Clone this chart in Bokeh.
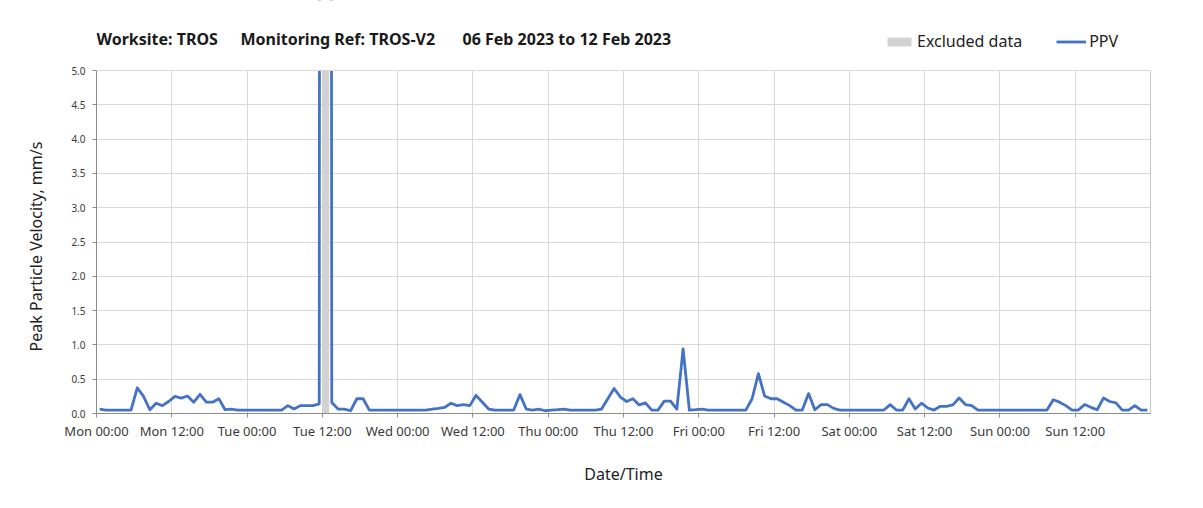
import pandas as pd
from bokeh.plotting import figure
from bokeh.models import (Range1d, FixedTicker, DatetimeTickFormatter, Legend, LegendItem,
                          Label, ColumnDataSource, NumeralTickFormatter, LinearAxis, Span,
                          BoxAnnotation)
from bokeh.embed import file_html
from bokeh.resources import INLINE

# ---------------- data ----------------
start_time = "2023-02-06 00:00"
end_time = "2023-02-13 00:00"
first_reading = "2023-02-06 00:30"
n_readings = 168

ppv = [
    0.065, 0.05, 0.05, 0.05, 0.05, 0.05, 0.375, 0.25, 0.055, 0.15,
    0.115, 0.175, 0.25, 0.225, 0.255, 0.165, 0.28, 0.165, 0.165, 0.215,
    0.055, 0.065, 0.05, 0.05, 0.05, 0.05, 0.05, 0.05, 0.05, 0.05,
    0.115, 0.065, 0.115, 0.115, 0.115, 0.14, 120.0, 0.16, 0.065, 0.065,
    0.04, 0.215, 0.215, 0.05, 0.05, 0.05, 0.05, 0.05, 0.05, 0.05,
    0.05, 0.05, 0.05, 0.065, 0.075, 0.09, 0.15, 0.115, 0.13, 0.115,
    0.265, 0.165, 0.065, 0.05, 0.05, 0.05, 0.05, 0.275, 0.065, 0.05,
    0.065, 0.04, 0.05, 0.055, 0.065, 0.05, 0.05, 0.05, 0.05, 0.05,
    0.065, 0.215, 0.365, 0.24, 0.175, 0.215, 0.125, 0.155, 0.05, 0.05,
    0.18, 0.18, 0.065, 0.94, 0.05, 0.055, 0.065, 0.05, 0.05, 0.05,
    0.05, 0.05, 0.05, 0.05, 0.215, 0.58, 0.255, 0.215, 0.215, 0.165,
    0.115, 0.05, 0.05, 0.29, 0.055, 0.13, 0.13, 0.075, 0.05, 0.05,
    0.05, 0.05, 0.05, 0.05, 0.05, 0.05, 0.13, 0.05, 0.05, 0.215,
    0.065, 0.15, 0.08, 0.05, 0.105, 0.105, 0.125, 0.225, 0.13, 0.115,
    0.05, 0.05, 0.05, 0.05, 0.05, 0.05, 0.05, 0.05, 0.05, 0.05,
    0.05, 0.05, 0.2, 0.165, 0.115, 0.05, 0.05, 0.13, 0.09, 0.055,
    0.225, 0.175, 0.155, 0.05, 0.05, 0.115, 0.05, 0.05,
]

excluded_start = ["2023-02-07 12:00"]
excluded_end = ["2023-02-07 13:05"]

y_min, y_max = 0.0, 5.0
y_ticks = [0.0, 0.5, 1.0, 1.5, 2.0, 2.5, 3.0, 3.5, 4.0, 4.5, 5.0]
x_tick_step = "12h"
n_x_ticks = 14

title_parts = ["Worksite: TROS", "Monitoring Ref: TROS-V2", "06 Feb 2023 to 12 Feb 2023"]
legend_labels = ["Excluded data", "PPV"]
x_label = "Date/Time"
y_label = "Peak Particle Velocity, mm/s"

# ---------------- layout constants (pixels) ----------------
W, H = 1203, 508
FRAME_L, FRAME_R, FRAME_T, FRAME_B = 96, 1150, 70, 413
GRID = "#d9d9d9"
AXIS = "#8c8c8c"
FONT = "Noto Sans"

# ---------------- build ----------------
times = pd.date_range(first_reading, periods=n_readings, freq="h")
src = ColumnDataSource(dict(t=times, ppv=ppv))
exc = ColumnDataSource(dict(left=pd.to_datetime(excluded_start), right=pd.to_datetime(excluded_end),
                            bottom=[y_min], top=[y_max]))

t0 = pd.Timestamp(start_time)
t1 = pd.Timestamp(end_time)
tick_times = pd.date_range(start_time, periods=n_x_ticks, freq=x_tick_step)

# the frame reaches the top of the canvas so that the title and legend can sit inside it;
# the data area (0..5) occupies FRAME_T..FRAME_B
y_top = y_max + FRAME_T * (y_max - y_min) / (FRAME_B - FRAME_T)

p = figure(width=W, height=H, output_backend="svg", toolbar_location=None,
           x_range=Range1d(t0, t1), y_range=Range1d(y_min, y_top),
           x_axis_type="datetime")
p.min_border_left = FRAME_L
p.min_border_right = W - FRAME_R
p.min_border_top = 0
p.min_border_bottom = H - FRAME_B

p.outline_line_color = None
p.background_fill_color = "white"
p.border_fill_color = "white"

ms_t0 = t0.value / 1e6
ms_t1 = t1.value / 1e6
def px_to_x(px):
    return ms_t0 + (px - FRAME_L) * (ms_t1 - ms_t0) / (FRAME_R - FRAME_L)
def px_to_y(py):
    return y_max - (py - FRAME_T) * (y_max - y_min) / (FRAME_B - FRAME_T)

r_exc = p.quad(left="left", right="right", bottom="bottom", top="top", source=exc,
               fill_color="#d2d2d2", line_color=None)
r_ppv = p.line("t", "ppv", source=src, line_color="#4472C4", line_width=2.8, line_join="round")

# white mask above the 5.0 line (hides the off-scale spike and grid above the chart area)
p.add_layout(BoxAnnotation(bottom=y_max, fill_color="white", fill_alpha=1.0,
                           line_color=None, level="annotation"))
p.add_layout(Span(location=y_max, dimension="width", line_color=GRID, line_width=1))

# axes
x_ticker = FixedTicker(ticks=[t.value / 1e6 for t in tick_times])
y_ticker = FixedTicker(ticks=y_ticks)
xax = p.xaxis[0]
yax = p.yaxis[0]
xax.ticker = x_ticker
fmt = "%a %H:%M"
xax.formatter = DatetimeTickFormatter(milliseconds=fmt, seconds=fmt, minsec=fmt, minutes=fmt,
                                      hourmin=fmt, hours=fmt, days=fmt, months=fmt, years=fmt)
yax.ticker = y_ticker
yax.formatter = NumeralTickFormatter(format="0.0")
yax.bounds = (y_min, y_max)

for ax in (xax, yax):
    ax.axis_line_color = AXIS
    ax.major_tick_line_color = AXIS
    ax.minor_tick_line_color = None
    ax.major_tick_in = 0
    ax.major_tick_out = 4
    ax.major_label_text_color = "#3a3a3a"
    ax.major_label_text_font = FONT
    ax.axis_label_text_font = FONT
    ax.axis_label_text_font_style = "normal"
    ax.axis_label_text_color = "#222222"

xax.major_label_text_font_size = "13px"
xax.major_label_standoff = 4
xax.axis_label = x_label
xax.axis_label_text_font_size = "16px"
xax.axis_label_standoff = 20

# the axis label is centred on the whole (extended) frame; trailing no-break spaces
# move the visible words down so they are centred on the 0..5 area
yax.major_label_text_font_size = "10px"
yax.major_label_standoff = 7
yax.axis_label = y_label + "\u00a0" * 19
yax.axis_label_text_font_size = "16px"
yax.axis_label_standoff = 21

p.xgrid.grid_line_color = GRID
p.ygrid.grid_line_color = GRID
p.xgrid.ticker = x_ticker
p.ygrid.ticker = y_ticker

# right edge of the chart area
right_edge = LinearAxis(bounds=(y_min, y_max), ticker=FixedTicker(ticks=[]),
                        axis_line_color="#c8c8c8", major_tick_line_color=None,
                        minor_tick_line_color=None, major_label_text_font_size="0px")
p.add_layout(right_edge, "right")

# title
title_px = [96, 240, 462]
for txt, px in zip(title_parts, title_px):
    p.add_layout(Label(x=px_to_x(px), y=px_to_y(38.5), text=txt, text_font=FONT,
                       text_font_size="16px", text_font_style="bold", text_color="#1a1a1a",
                       text_baseline="middle", text_align="left"))

# legend
legend = Legend(items=[LegendItem(label=legend_labels[0], renderers=[r_exc]),
                       LegendItem(label=legend_labels[1], renderers=[r_ppv])],
                location=(884 - FRAME_L, FRAME_B - 52), orientation="horizontal",
                padding=0, margin=0, spacing=34, glyph_width=30, glyph_height=11,
                label_standoff=3, label_height=16,
                label_text_font=FONT, label_text_font_size="16px", label_text_color="#222222",
                border_line_alpha=0, background_fill_alpha=0)
p.add_layout(legend)

open("out.html", "w").write(file_html(p, INLINE))
